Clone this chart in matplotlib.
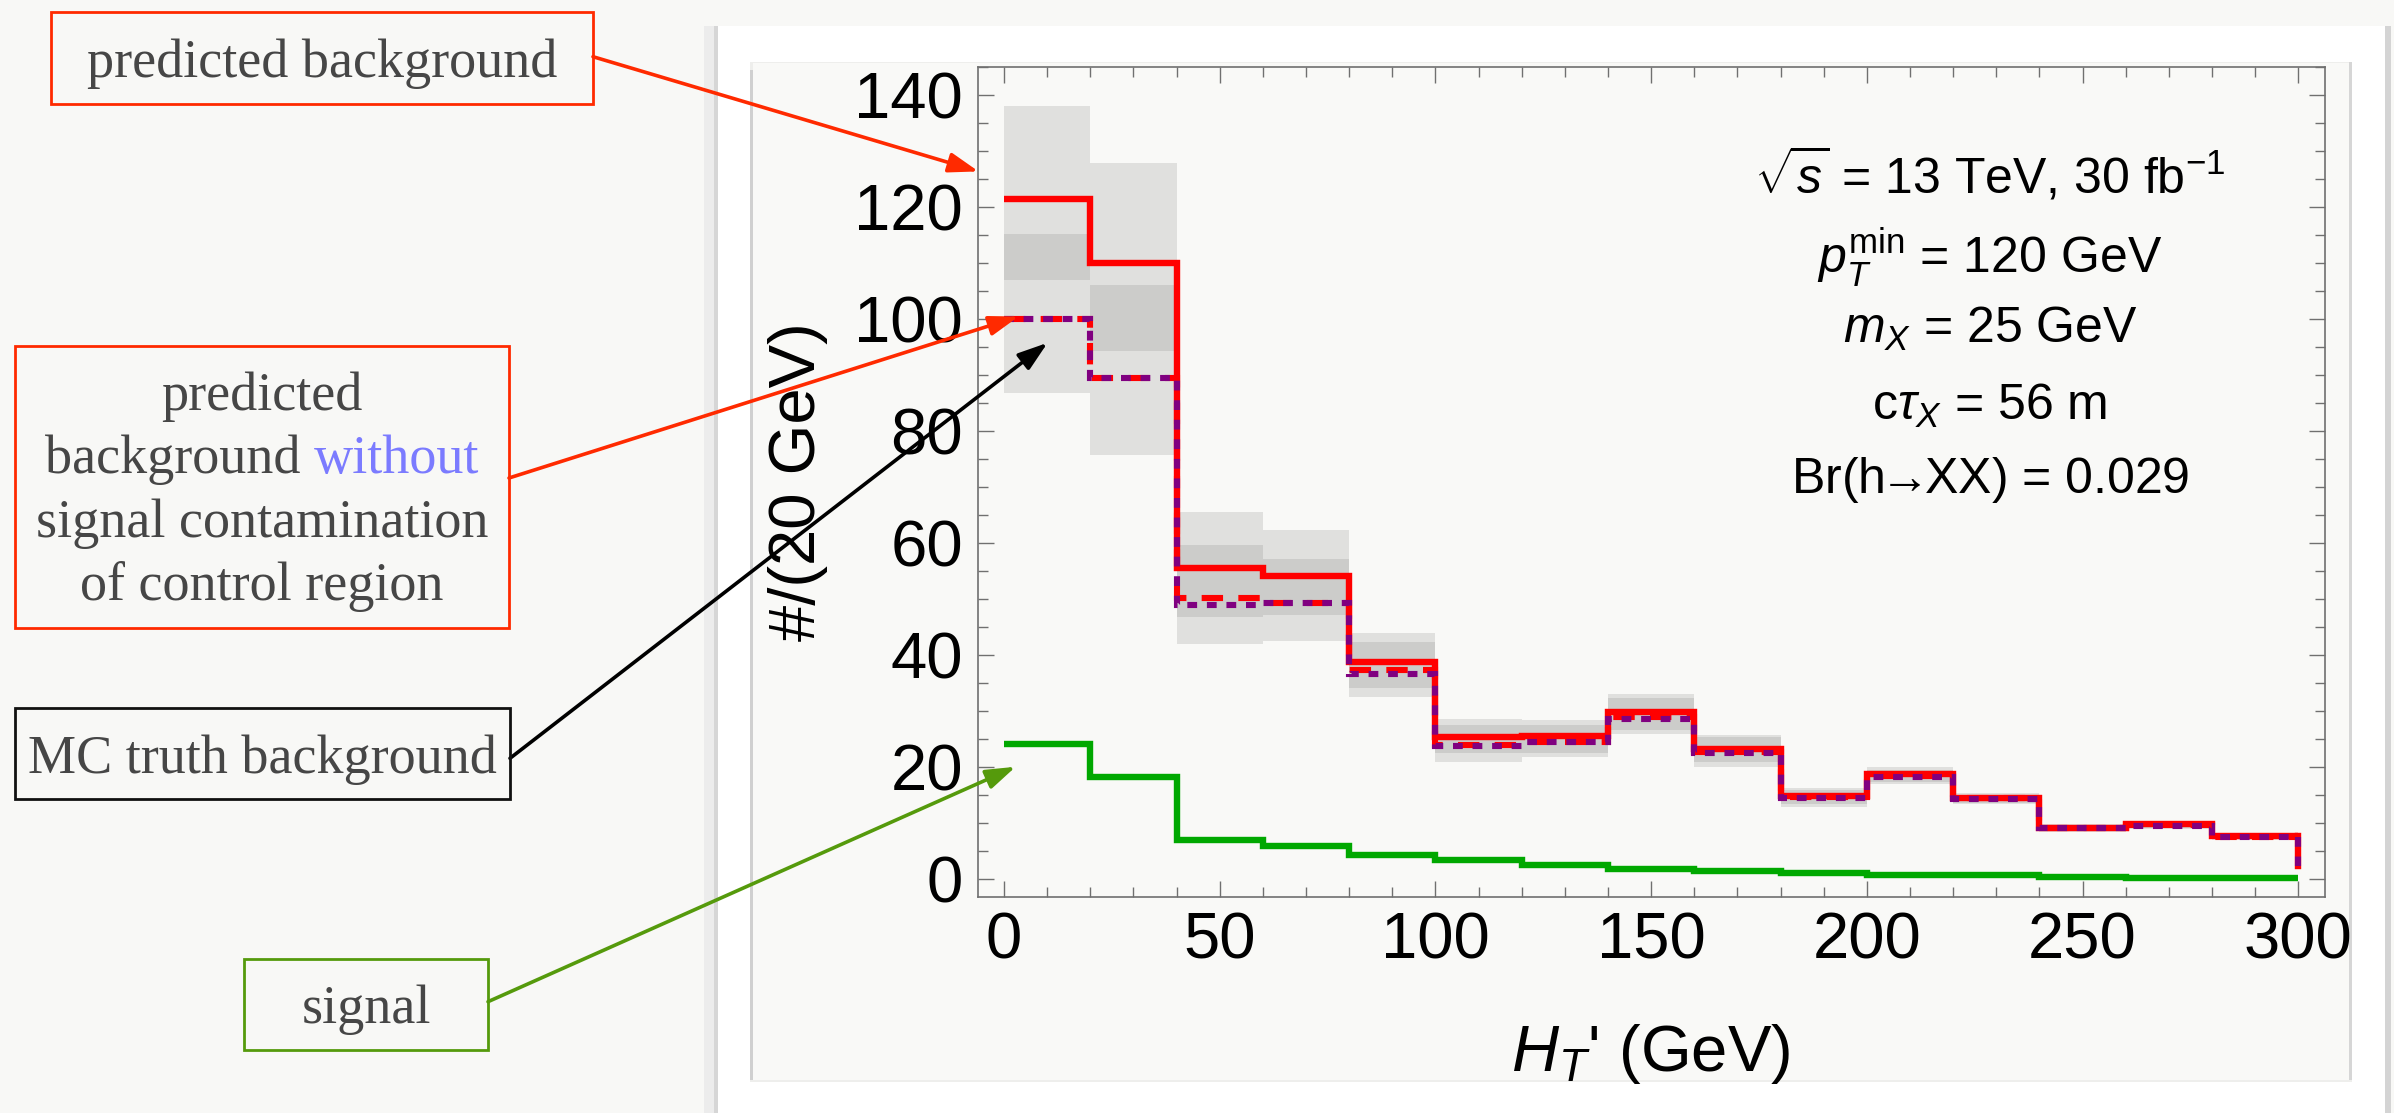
import numpy as np
import matplotlib
matplotlib.use('Agg')
import matplotlib.pyplot as plt
from matplotlib.patches import Rectangle

plt.rcParams['font.family'] = ['Liberation Sans', 'DejaVu Sans']
plt.rcParams['mathtext.fontset'] = 'custom'
plt.rcParams['mathtext.rm'] = 'Liberation Sans'
plt.rcParams['mathtext.it'] = 'Liberation Sans:italic'
plt.rcParams['mathtext.bf'] = 'Liberation Sans:bold'

# H_T' bins (GeV)
bin_edges = [0, 20, 40, 60, 80, 100, 120, 140, 160, 180, 200, 220, 240, 260, 280, 300]

# events per bin
pred_bkg = [121.5, 110.0, 55.6, 54.2, 38.8, 25.4, 25.6, 29.9, 23.3, 14.9, 18.8, 14.6, 9.2, 9.8, 7.7]
pred_nosig = [100.0, 89.6, 50.3, 49.4, 37.3, 24.0, 24.6, 28.9, 22.8, 14.7, 18.4, 14.5, 9.1, 9.7, 7.6]
mc_truth = [100.0, 89.6, 49.0, 49.4, 36.6, 23.8, 24.6, 28.7, 22.6, 14.6, 18.3, 14.4, 9.1, 9.6, 7.6]
signal = [24.1, 18.2, 7.05, 6.0, 4.4, 3.4, 2.5, 1.9, 1.5, 1.15, 0.8, 0.7, 0.5, 0.3, 0.2]
tail_level = 2.4

# uncertainty bands (low / high) for the two predictions
pred_lo = [107.0, 94.4, 46.9, 47.2, 34.1, 22.5, 22.6, 26.7, 21.0, 13.4, 17.4, 13.7, 8.6, 9.2, 7.2]
pred_hi = [138.0, 127.9, 65.6, 62.3, 44.0, 28.6, 28.5, 33.1, 25.8, 16.3, 20.0, 15.4, 9.8, 10.4, 8.2]
nosig_lo = [86.8, 75.8, 42.0, 42.6, 32.5, 21.0, 21.9, 25.9, 20.1, 13.0, 17.1, 13.4, 8.5, 9.0, 7.1]
nosig_hi = [115.2, 106.2, 59.7, 57.2, 42.3, 27.5, 27.6, 32.3, 25.4, 16.0, 19.6, 15.1, 9.7, 10.2, 8.1]

info_lines = [r'$\sqrt{s}$ = 13 TeV, 30 fb$^{-1}$',
              r'$p_T^{\mathrm{min}}$ = 120 GeV',
              r'$m_X$ = 25 GeV',
              r'c$\tau_X$ = 56 m',
              r'Br(h$\!\!\rightarrow\!\!$XX) = 0.029']

W, H = 2394, 1113
fig = plt.figure(figsize=(W / 100, H / 100), dpi=100, facecolor='#f8f8f6')


def fx(x):
    return x / W


def fy(y):
    return 1 - y / H


def panel(x0, y0, x1, y1, color, z):
    fig.add_artist(Rectangle((fx(x0), fy(y1)), fx(x1) - fx(x0), fy(y0) - fy(y1),
                             transform=fig.transFigure, facecolor=color,
                             edgecolor='none', zorder=z))


# white sheet with a soft shadow, then the plot frame on it
panel(704, 26, 718, H, '#ececec', -12)
panel(714, 26, 718, H, '#d6d6d6', -11)
panel(2385, 26, 2391, H, '#d4d4d4', -11)
panel(718, 26, 2385, H, '#ffffff', -10)
panel(750, 62, 2352, 1082, '#eeeeec', -9)
panel(750, 70, 753, 1080, '#d0d0d0', -8)
panel(2349, 62, 2352, 1080, '#d6d6d6', -8)
panel(753, 63, 2349, 1080, '#f9f9f7', -7)

ax = fig.add_axes([fx(977.7), fy(896.7), fx(2325) - fx(977.7), fy(66.7) - fy(896.7)])
ax.set_facecolor('#f9f9f7')

edges = np.array(bin_edges)
widths = np.diff(edges)
ax.bar(edges[:-1], np.array(pred_hi) - np.array(pred_lo), bottom=pred_lo, width=widths,
       align='edge', color='#7c7c7c', alpha=0.2, linewidth=0, zorder=1)
ax.bar(edges[:-1], np.array(nosig_hi) - np.array(nosig_lo), bottom=nosig_lo, width=widths,
       align='edge', color='#7c7c7c', alpha=0.2, linewidth=0, zorder=1)

ax.stairs(signal, edges, baseline=None, color='#00a800', lw=4.6, zorder=3)
ax.stairs(pred_bkg, edges, baseline=None, color='#ff0000', lw=4.6, zorder=4)
ax.plot([edges[-1], edges[-1]], [pred_bkg[-1], tail_level], color='#ff0000', lw=4.6, zorder=4)
ax.stairs(pred_nosig, edges, baseline=None, color='#ff0000', lw=4.4,
          linestyle=(0, (3.5, 2.5)), zorder=5)
ax.stairs(mc_truth, edges, baseline=None, color='#800080', lw=4.4,
          linestyle=(0, (1.6, 1.6)), zorder=6)
ax.plot([edges[-1], edges[-1]], [mc_truth[-1], tail_level], color='#800080', lw=4.4,
        linestyle=(0, (1.6, 1.6)), zorder=6)

ax.set_xlim(-6.1, 306.2)
ax.set_ylim(-3.1, 145.1)
ax.set_xticks(np.arange(0, 301, 50))
ax.set_xticks(np.arange(0, 301, 10), minor=True)
ax.set_yticks(np.arange(0, 141, 20))
ax.set_yticks(np.arange(0, 146, 5), minor=True)
ax.tick_params(which='both', direction='in', top=True, right=True, color='#707070',
               width=1.0, labelsize=47, pad=10.5)
ax.tick_params(which='major', length=11.5)
ax.tick_params(which='minor', length=7)
for s in ax.spines.values():
    s.set_color('#707070')
    s.set_linewidth(1.2)

fig.text(fx(815), fy(482), '#/(20 GeV)', rotation=90, rotation_mode='anchor',
         ha='center', va='baseline', fontsize=47)
fig.text(fx(1651), fy(1070.6), r"$H_T$' (GeV)", ha='center', va='baseline', fontsize=47)

for txt, base in zip(info_lines, [192.7, 274, 343.3, 420, 492.7]):
    fig.text(fx(1990), fy(base), txt, ha='center', va='baseline', fontsize=36)

# callout boxes on the left
serif = ['Liberation Serif', 'DejaVu Serif']
txt_col = '#464646'
red = '#ff2a00'
green = '#559a0c'


def box(x0, y0, x1, y1, color):
    fig.add_artist(Rectangle((fx(x0), fy(y1)), fx(x1) - fx(x0), fy(y0) - fy(y1),
                             transform=fig.transFigure, facecolor='none',
                             edgecolor=color, lw=2.0, zorder=5))


box(51, 12, 593, 104, red)
fig.text(fx(322), fy(77.3), 'predicted background', ha='center', va='baseline',
         fontsize=39, family=serif, color=txt_col)

box(15, 346, 509, 628, red)
fig.text(fx(262), fy(410), 'predicted', ha='center', va='baseline',
         fontsize=39, family=serif, color=txt_col)
full = fig.text(fx(262), fy(473.3), 'background without', ha='center', va='baseline',
                fontsize=39, family=serif, color=txt_col, alpha=0)
fig.canvas.draw()
bb = full.get_window_extent()
fig.text(bb.x0 / W, fy(473.3), 'background ', ha='left', va='baseline',
         fontsize=39, family=serif, color=txt_col)
fig.text(bb.x1 / W, fy(473.3), 'without', ha='right', va='baseline',
         fontsize=39, family=serif, color='#7b7bff')
fig.text(fx(262), fy(536.7), 'signal contamination', ha='center', va='baseline',
         fontsize=39, family=serif, color=txt_col)
fig.text(fx(262), fy(600), 'of control region', ha='center', va='baseline',
         fontsize=39, family=serif, color=txt_col)

box(15, 708, 510, 799, '#111111')
fig.text(fx(262), fy(773.3), 'MC truth background', ha='center', va='baseline',
         fontsize=39, family=serif, color=txt_col)

box(244, 959, 488, 1050, green)
fig.text(fx(366), fy(1022.7), 'signal', ha='center', va='baseline',
         fontsize=39, family=serif, color=txt_col)

# arrows from the boxes into the plot
arrows = [((-5.9, 126.4), (593, H - 56.7), red),
          ((3.4, 100.5), (509, H - 478), red),
          ((10.1, 95.8), (510, H - 758.3), '#000000'),
          ((2.7, 20.1), (488, H - 1001.7), green)]
for tip, start, col in arrows:
    ax.annotate('', xy=tip, xycoords='data', xytext=start, textcoords='figure pixels',
                annotation_clip=False, zorder=10,
                arrowprops=dict(arrowstyle='-|>,head_length=0.9,head_width=0.3',
                                mutation_scale=20, color=col, lw=2.6,
                                shrinkA=0, shrinkB=0))

fig.savefig('out.png', dpi=100, facecolor=fig.get_facecolor())
